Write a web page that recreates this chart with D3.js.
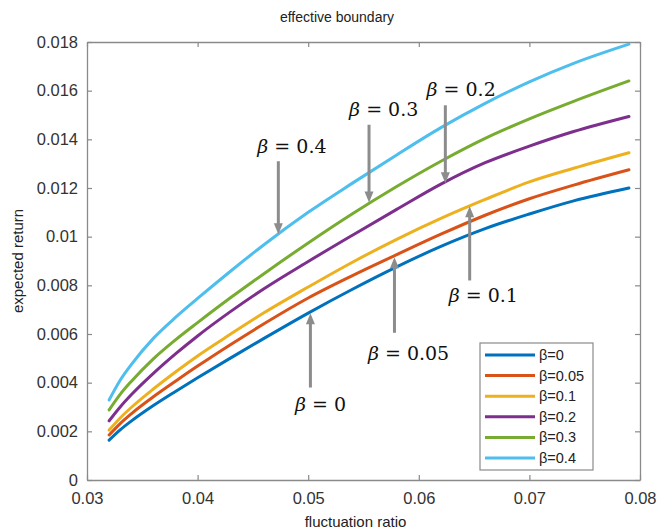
<!DOCTYPE html>
<html><head><meta charset="utf-8">
<script src="https://cdn.jsdelivr.net/npm/d3@7"></script>
<style>body{margin:0;background:#fff}</style>
</head><body>
<svg id="chart" width="672" height="531"></svg>
<script>
// ---- data ----
const xValues = [0.032, 0.033, 0.034, 0.036, 0.038, 0.040, 0.043, 0.046, 0.050, 0.054, 0.058, 0.062, 0.066, 0.070, 0.074, 0.079];
const seriesNames = ["β=0", "β=0.05", "β=0.1", "β=0.2", "β=0.3", "β=0.4"];
const beta0   = [0.00164, 0.00206, 0.00242, 0.00306, 0.00364, 0.00420, 0.00502, 0.00582, 0.00686, 0.00784, 0.00876, 0.00960, 0.01033, 0.01093, 0.01147, 0.01200];
const beta005 = [0.00185, 0.00232, 0.00272, 0.00342, 0.00406, 0.00468, 0.00557, 0.00642, 0.00748, 0.00840, 0.00926, 0.01010, 0.01088, 0.01156, 0.01212, 0.01275];
const beta01  = [0.00205, 0.00255, 0.00298, 0.00374, 0.00444, 0.00510, 0.00600, 0.00687, 0.00793, 0.00895, 0.00989, 0.01075, 0.01153, 0.01225, 0.01281, 0.01345];
const beta02  = [0.00243, 0.00300, 0.00350, 0.00438, 0.00518, 0.00592, 0.00693, 0.00786, 0.00898, 0.01006, 0.01112, 0.01216, 0.01304, 0.01372, 0.01432, 0.01494];
const beta03  = [0.00288, 0.00352, 0.00405, 0.00498, 0.00576, 0.00647, 0.00750, 0.00848, 0.00974, 0.01094, 0.01206, 0.01310, 0.01404, 0.01484, 0.01556, 0.01640];
const beta04  = [0.00329, 0.00410, 0.00474, 0.00582, 0.00668, 0.00746, 0.00859, 0.00967, 0.01100, 0.01220, 0.01336, 0.01448, 0.01548, 0.01636, 0.01712, 0.01791];
const seriesValues = [beta0, beta005, beta01, beta02, beta03, beta04];
const colors = ["#0072BD", "#D95319", "#EDB120", "#7E2F8E", "#77AC30", "#4DBEEE"];
const xTicks = [0.03, 0.04, 0.05, 0.06, 0.07, 0.08];
const xTickLabels = ["0.03", "0.04", "0.05", "0.06", "0.07", "0.08"];
const yTicks = [0, 0.002, 0.004, 0.006, 0.008, 0.01, 0.012, 0.014, 0.016, 0.018];
const yTickLabels = ["0", "0.002", "0.004", "0.006", "0.008", "0.01", "0.012", "0.014", "0.016", "0.018"];
// annotations: label, arrow x (data), arrow tail y, arrow tip y, text anchor position
const annoLabels = ["0.4", "0.3", "0.2", "0.1", "0.05", "0"];
const annoX      = [0.0473, 0.0555, 0.0624, 0.0646, 0.0578, 0.0502];
const annoTail   = [0.01310, 0.01460, 0.01540, 0.00820, 0.00605, 0.00380];
const annoTip    = [0.01010, 0.01140, 0.01220, 0.01125, 0.00915, 0.00685];
const annoTextX  = [0.0454, 0.0537, 0.0607, 0.0627, 0.0554, 0.0488];
const annoTextY  = [0.01345, 0.01495, 0.01580, 0.00730, 0.00495, 0.00285];

const svg = d3.select("#chart");
const L = 87, R = 640, T = 42, B = 480;
const x = d3.scaleLinear().domain([0.03, 0.08]).range([L, R]);
const y = d3.scaleLinear().domain([0, 0.018]).range([B, T]);
const axisColor = "#8a8a8a";
const font = "'Liberation Sans', Arial, sans-serif";

// axes (box style, ticks inside)
const gx = svg.append("g").attr("transform", `translate(0,${B})`)
  .call(d3.axisBottom(x).tickValues(xTicks).tickFormat((d,i)=>xTickLabels[i]).tickSizeInner(-5).tickSizeOuter(0).tickPadding(9));
const gxt = svg.append("g").attr("transform", `translate(0,${T})`)
  .call(d3.axisTop(x).tickValues(xTicks).tickFormat("").tickSizeInner(-5).tickSizeOuter(0));
const gy = svg.append("g").attr("transform", `translate(${L},0)`)
  .call(d3.axisLeft(y).tickValues(yTicks).tickFormat((d,i)=>yTickLabels[i]).tickSizeInner(-5).tickSizeOuter(0).tickPadding(9));
const gyr = svg.append("g").attr("transform", `translate(${R},0)`)
  .call(d3.axisRight(y).tickValues(yTicks).tickFormat("").tickSizeInner(-5).tickSizeOuter(0));
[gx, gxt, gy, gyr].forEach(g => {
  g.selectAll("path.domain").attr("stroke", axisColor).attr("stroke-width", 1.3);
  g.selectAll(".tick line").attr("stroke", axisColor).attr("stroke-width", 1.2);
  g.selectAll(".tick text").attr("fill", "#333").style("font-family", font).style("font-size", "16.5px");
});
gx.selectAll(".tick text").attr("dy", "0.9em");

// curves
const line = d3.line().x((d,i)=>x(xValues[i])).y(d=>y(d)).curve(d3.curveMonotoneX);
seriesValues.forEach((vals, k) => {
  svg.append("path").datum(vals).attr("d", line)
    .attr("fill", "none").attr("stroke", colors[k]).attr("stroke-width", 3).attr("stroke-linecap", "round");
});

// annotation arrows
const arrowColor = "#8c8c8c";
annoLabels.forEach((lab, i) => {
  const ax = x(annoX[i]), y0 = y(annoTail[i]), y1 = y(annoTip[i]);
  const dir = y1 > y0 ? 1 : -1;
  svg.append("line").attr("x1", ax).attr("x2", ax).attr("y1", y0).attr("y2", y1 - dir*9)
    .attr("stroke", arrowColor).attr("stroke-width", 3);
  svg.append("path")
    .attr("d", `M${ax-4.5},${y1-dir*11} L${ax+4.5},${y1-dir*11} L${ax},${y1} Z`)
    .attr("fill", arrowColor);
  const t = svg.append("text").attr("x", x(annoTextX[i])).attr("y", y(annoTextY[i]))
    .style("font-family", "'DejaVu Serif', 'Liberation Serif', serif").style("font-size", "19px").attr("fill", "#111");
  t.append("tspan").style("font-style", "italic").text("β");
  t.append("tspan").text(" = " + lab);
});

// title and axis labels
svg.append("text").attr("x", 337).attr("y", 22).attr("text-anchor", "middle")
  .style("font-family", font).style("font-size", "14px").attr("fill", "#222").text("effective boundary");
svg.append("text").attr("x", (L+R)/2 - 8).attr("y", 527).attr("text-anchor", "middle")
  .style("font-family", font).style("font-size", "15px").attr("fill", "#222").text("fluctuation ratio");
svg.append("text").attr("transform", `translate(23,${(T+B)/2}) rotate(-90)`).attr("text-anchor", "middle")
  .style("font-family", font).style("font-size", "15px").attr("fill", "#222").text("expected return");

// legend
const lg = svg.append("g");
lg.append("rect").attr("x", 480).attr("y", 343).attr("width", 113).attr("height", 127)
  .attr("fill", "#fff").attr("stroke", axisColor).attr("stroke-width", 1.2);
seriesNames.forEach((n, k) => {
  const yy = 355 + k*20.6;
  lg.append("line").attr("x1", 485).attr("x2", 535).attr("y1", yy).attr("y2", yy)
    .attr("stroke", colors[k]).attr("stroke-width", 3);
  lg.append("text").attr("x", 539).attr("y", yy).attr("dy", "0.35em")
    .style("font-family", font).style("font-size", "14.5px").attr("fill", "#222").text(n);
});
</script>
</body></html>
